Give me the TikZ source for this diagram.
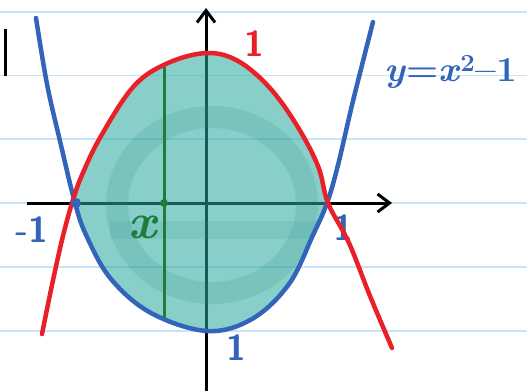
\documentclass[tikz,border=0pt]{standalone}
\usetikzlibrary{arrows.meta}
\definecolor{rul}{RGB}{200,228,248}
\definecolor{pred}{RGB}{234,32,40}
\definecolor{pblue}{RGB}{50,100,186}
\definecolor{pgreen}{RGB}{30,125,60}
\definecolor{pteal}{RGB}{40,168,158}
\tikzset{
  ruling/.style={rul, line width=1.6pt},
  axisline/.style={black, line width=3pt, -{Straight Barb[length=12pt,width=18pt,line width=3pt]}},
  redcurve/.style={pred, line width=4.5pt, line cap=round, line join=round},
  bluecurve/.style={pblue, line width=4.5pt, line cap=round, line join=round},
  greenline/.style={pgreen, line width=3pt},
  lab/.style={inner sep=0pt, font=\sffamily\bfseries\fontsize{36}{36}\selectfont},
}
\begin{document}
\begin{tikzpicture}[x=1pt,y=-1pt]
\useasboundingbox (0,0) rectangle (527,391);
\fill[white] (0,0) rectangle (527,391);
% ruled paper
\foreach \yy in {12,75.5,139,203,267,331} \draw[ruling] (0,\yy) -- (527,\yy);
% margin mark
\coordinate (m1) at (5,29); \coordinate (m2) at (5,76);
\draw[black, line width=3pt] (m1) -- (m2);
% axes
\coordinate (xl) at (27,203); \coordinate (xr) at (392,203);
\coordinate (yb) at (206,391); \coordinate (yt) at (206,8);
\draw[axisline] (xl) -- (xr);
\draw[axisline] (yb) -- (yt);
% region
\def\region{plot[smooth, tension=0.6] coordinates {(74,203) (82,175) (101,136) (134,86) (168,63) (207,53) (238,61) (269,87) (296,124) (318,166) (328,203)}
  -- plot[smooth, tension=0.6] coordinates {(327,203) (313,235) (289,284) (252,319) (207,331) (151,313) (111,279) (87,237) (75,203)} -- cycle}
\fill[pteal, opacity=0.55] \region;
\begin{scope}
\clip \region;
\draw[pteal!80!black, opacity=0.15, line width=22pt] (212,205) ellipse [x radius=95, y radius=88];
\draw[pteal!80!black, opacity=0.12, line width=18pt] (110,230) -- (320,230);
\end{scope}
% labels under curves
\node[lab, text=pblue] (r1) at (343,228) {1};
% curves
\draw[bluecurve] plot[smooth, tension=0.6] coordinates {(36,18) (47,84) (60,141) (75,203) (87,237) (111,279) (151,313) (207,331) (252,319) (289,284) (313,235) (327,203) (338,165) (353,101) (373,22)};
\draw[redcurve] plot[smooth, tension=0.6] coordinates {(42,334) (52,285) (62,240) (72,203) (82,175) (101,136) (134,86) (168,63) (207,53) (238,61) (269,87) (296,124) (318,166) (328,203) (349,243) (370,296) (392,348)};
% green slice
\coordinate (gt) at (164,67); \coordinate (gb) at (164,318);
\draw[greenline] (gt) -- (gb);
\fill[pgreen] (164,203) circle (4pt);
\fill[pblue] (76,203) circle (5pt);
% labels
\node[lab, text=pred] (t1) at (254,44) {1};
\node[lab, text=pblue] (l1) at (32,230) {-1};
\node[lab, text=pblue] (b1) at (236,348) {1};
\node[inner sep=0pt, text=pgreen, font=\bfseries\itshape\fontsize{50}{50}\selectfont] (gx) at (143,227) {x};
\node[inner sep=0pt, anchor=base west, text=pblue, font=\bfseries\fontsize{35}{35}\selectfont] (eq) at (384,81) {\scalebox{1.05}[1]{\textit{y}=\textit{x}\textsuperscript{2}–1}};
\end{tikzpicture}
\end{document}
